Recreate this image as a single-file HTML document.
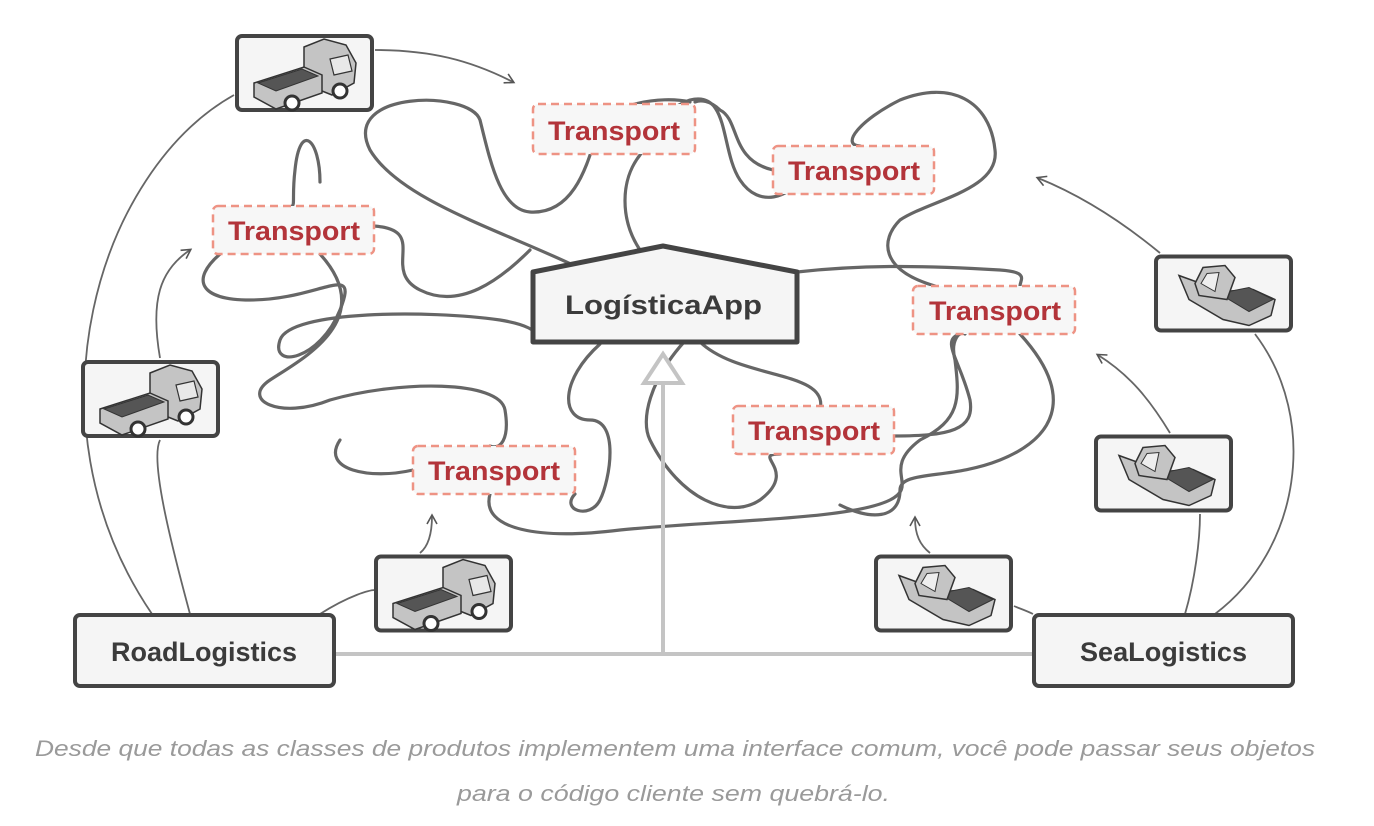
<!DOCTYPE html>
<html><head><meta charset="utf-8"><style>
html,body{margin:0;padding:0;background:#fff;}
svg{display:block;}
.cap{font-family:"Liberation Sans",sans-serif;font-style:italic;fill:#9a9a9a;font-size:22px;}
.lbl{font-family:"Liberation Sans",sans-serif;font-weight:bold;font-size:27px;fill:#b3343a;}
.nm{font-family:"Liberation Sans",sans-serif;font-weight:bold;font-size:27px;fill:#3b3b3b;}
</style></head><body>
<svg width="1374" height="826" viewBox="0 0 1374 826" xmlns="http://www.w3.org/2000/svg">
<defs>
<marker id="ar" markerWidth="12" markerHeight="12" refX="9" refY="6" orient="auto" markerUnits="userSpaceOnUse">
<path d="M1,1 L10,6 L1,11" fill="none" stroke="#555" stroke-width="1.6"/></marker>
<symbol id="truck" viewBox="0 0 141 80">
<rect x="3" y="3" width="135" height="74" rx="5" fill="#f5f5f5" stroke="#444" stroke-width="4"/>
<polygon points="70,14 90,6 112,12 122,30 120,50 98,62 78,54 70,40" fill="#c4c4c4" stroke="#333" stroke-width="1.5"/>
<polygon points="96,26 114,22 118,38 100,42" fill="#e8e8e8" stroke="#333" stroke-width="1.2"/>
<polygon points="20,50 70,34 88,42 88,60 42,76 20,64" fill="#c4c4c4" stroke="#333" stroke-width="1.5"/>
<polygon points="24,50 68,36 84,43 42,58" fill="#555" stroke="#333" stroke-width="1"/>
<circle cx="58" cy="70" r="7" fill="#fff" stroke="#333" stroke-width="3"/>
<circle cx="106" cy="58" r="7" fill="#fff" stroke="#333" stroke-width="3"/>
</symbol>
<symbol id="boat" viewBox="0 0 141 80">
<rect x="3" y="3" width="135" height="74" rx="5" fill="#f5f5f5" stroke="#444" stroke-width="4"/>
<polygon points="26,22 70,38 100,36 122,46 118,62 96,72 70,66 36,46" fill="#c4c4c4" stroke="#333" stroke-width="1.5"/>
<polygon points="66,40 96,34 120,46 96,58" fill="#555" stroke="#333" stroke-width="1"/>
<polygon points="42,30 50,14 72,12 82,24 74,46 46,42" fill="#c4c4c4" stroke="#333" stroke-width="1.5"/>
<polygon points="48,30 54,20 66,19 62,38" fill="#eee" stroke="#333" stroke-width="1"/>
</symbol>
</defs>

<g fill="none" stroke="#666" stroke-width="1.8">
<path d="M375,50 C430,50 470,60 513,82" marker-end="url(#ar)"/>
<path d="M234,95 C100,170 20,420 152,614"/>
<path d="M190,614 C170,540 150,460 160,440"/>
<path d="M160,358 C150,300 160,270 190,250" marker-end="url(#ar)"/>
<path d="M320,614 C350,595 370,590 375,590"/>
<path d="M420,553 C430,545 432,530 432,516" marker-end="url(#ar)"/>
<path d="M1160,253 C1120,220 1080,195 1038,178" marker-end="url(#ar)"/>
<path d="M1215,614 C1300,550 1320,420 1255,334"/>
<path d="M1185,614 C1195,580 1200,540 1200,514"/>
<path d="M1170,433 C1150,400 1130,375 1098,355" marker-end="url(#ar)"/>
<path d="M1033,614 C1025,610 1018,608 1014,606"/>
<path d="M930,553 C920,545 915,535 915,518" marker-end="url(#ar)"/>
</g>

<g fill="none" stroke="#666" stroke-width="3.2" stroke-linecap="round">
<path d="M575,266 C500,230 400,200 370,150 C340,90 470,90 480,120 C490,160 500,210 530,212 C580,215 590,150 600,125 C610,105 660,95 690,102"/>
<path d="M640,250 C620,220 620,180 640,155 C650,140 660,110 690,100 C730,90 720,150 740,180 C760,210 790,195 800,180"/>
<path d="M320,182 C320,140 300,120 295,170 C292,195 295,205 292,206"/>
<path d="M374,226 C430,230 380,270 420,290 C460,310 500,280 530,250"/>
<path d="M220,254 C190,280 200,300 250,300 C320,300 360,260 340,310 C320,360 270,370 280,340 C290,310 430,310 500,320 C530,325 535,332 533,332"/>
<path d="M320,254 C380,320 300,360 270,380 C240,400 280,420 330,400 C400,380 500,380 505,410 C510,440 500,450 490,446"/>
<path d="M413,470 C370,480 320,470 340,440"/>
<path d="M490,494 C480,530 540,540 620,530 C720,520 850,520 890,500 C920,485 880,470 920,440 C960,420 960,400 955,360 C950,340 960,330 965,334"/>
<path d="M600,344 C560,380 560,420 590,420 C620,420 610,480 600,500 C590,520 560,510 575,494"/>
<path d="M700,342 C740,380 830,370 820,410"/>
<path d="M684,342 C650,380 640,420 650,440 C680,500 730,520 760,500 C800,470 750,454 780,454"/>
<path d="M894,436 C950,436 975,430 970,400 C960,360 940,340 960,334"/>
<path d="M1020,334 C1080,400 1050,440 1000,460 C950,480 900,470 900,490 C900,520 870,520 840,505"/>
<path d="M797,272 C860,265 920,265 1000,270 C1030,272 1020,280 1020,286"/>
<path d="M935,286 C880,270 880,240 900,220 C930,200 1000,190 995,150 C990,100 950,80 900,100 C860,120 840,145 860,146"/>
<path d="M773,170 C730,160 740,120 720,110 C710,100 700,100 695,102"/>
</g>

<g fill="none" stroke="#c4c4c4" stroke-width="4">
<path d="M334,654 H1033"/>
<path d="M663,654 V383"/>
<polygon points="663,354 682,383 644,383" fill="#fff"/>
</g>

<polygon points="533,272 663,246 797,272 797,342 533,342" fill="#f5f5f5" stroke="#444" stroke-width="5" stroke-linejoin="round"/>
<text x="565" y="314" textLength="197" lengthAdjust="spacingAndGlyphs" class="nm">LogísticaApp</text>

<g fill="#f7f7f7" stroke="#ee9384" stroke-width="2.5" stroke-dasharray="8,5">
<rect x="533" y="104" width="162" height="50" rx="5"/>
<rect x="773" y="146" width="161" height="48" rx="5"/>
<rect x="213" y="206" width="161" height="48" rx="5"/>
<rect x="913" y="286" width="162" height="48" rx="5"/>
<rect x="733" y="406" width="161" height="48" rx="5"/>
<rect x="413" y="446" width="162" height="48" rx="5"/>
</g>
<g class="lbl">
<text x="548" y="140" textLength="132" lengthAdjust="spacingAndGlyphs" class="lbl">Transport</text>
<text x="788" y="180" textLength="132" lengthAdjust="spacingAndGlyphs" class="lbl">Transport</text>
<text x="228" y="240" textLength="132" lengthAdjust="spacingAndGlyphs" class="lbl">Transport</text>
<text x="929" y="320" textLength="132" lengthAdjust="spacingAndGlyphs" class="lbl">Transport</text>
<text x="748" y="440" textLength="132" lengthAdjust="spacingAndGlyphs" class="lbl">Transport</text>
<text x="428" y="480" textLength="132" lengthAdjust="spacingAndGlyphs" class="lbl">Transport</text>
</g>

<use href="#truck" x="234" y="33" width="141" height="80"/>
<use href="#truck" x="80" y="358" width="141" height="82"/>
<use href="#truck" x="373" y="553" width="141" height="81"/>
<use href="#boat" x="1153" y="253" width="141" height="81"/>
<use href="#boat" x="1093" y="433" width="141" height="81"/>
<use href="#boat" x="873" y="553" width="141" height="81"/>

<rect x="75" y="615" width="259" height="71" rx="5" fill="#f5f5f5" stroke="#444" stroke-width="4"/>
<text x="111" y="661" textLength="186" lengthAdjust="spacingAndGlyphs" class="nm">RoadLogistics</text>
<rect x="1034" y="615" width="259" height="71" rx="5" fill="#f5f5f5" stroke="#444" stroke-width="4"/>
<text x="1080" y="661" textLength="167" lengthAdjust="spacingAndGlyphs" class="nm">SeaLogistics</text>

<text x="35" y="756" textLength="1280" lengthAdjust="spacingAndGlyphs" class="cap">Desde que todas as classes de produtos implementem uma interface comum, você pode passar seus objetos</text>
<text x="457" y="801" textLength="433" lengthAdjust="spacingAndGlyphs" class="cap">para o código cliente sem quebrá-lo.</text>
</svg>
</body></html>
